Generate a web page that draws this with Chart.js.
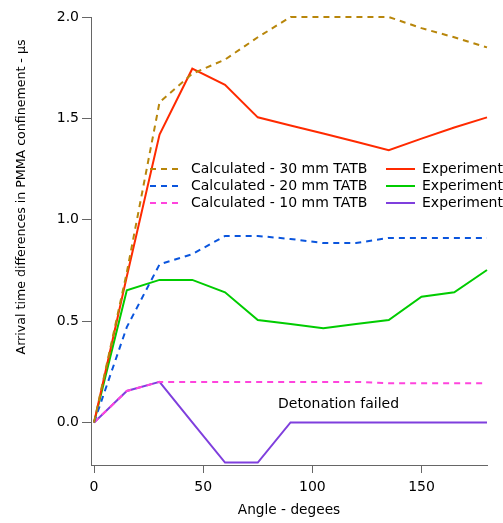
<!DOCTYPE html>
<html>
<head>
<meta charset="utf-8">
<script src="https://cdn.jsdelivr.net/npm/chart.js@4/dist/chart.umd.min.js"></script>
<style>
  html, body { margin: 0; padding: 0; background: #fff; }
  #wrap { width: 503px; height: 523px; }
</style>
</head>
<body>
<div id="wrap"><canvas id="chart"></canvas></div>
<script>
// angles (degrees)
const angles = [0, 15, 30, 45, 60, 75, 90, 105, 120, 135, 150, 165, 180];

// calculated arrival time differences (us)
const calc30 = [0, 0.74, 1.58, 1.72, 1.79, 1.90, 2.0, 2.0, 2.0, 2.0, 1.945, 1.90, 1.85];
const calc20 = [0, 0.47, 0.78, 0.83, 0.92, 0.92, 0.905, 0.885, 0.885, 0.91, 0.91, 0.91, 0.91];
const calc10 = [0, 0.155, 0.20, 0.20, 0.20, 0.20, 0.20, 0.20, 0.20, 0.193, 0.193, 0.193, 0.193];

// experiments
const exp30 = [0, 0.72, 1.42, 1.745, 1.665, 1.505, 1.465, 1.425, 1.385, 1.343, 1.40, 1.455, 1.505];
const exp20 = [0, 0.652, 0.703, 0.703, 0.642, 0.505, 0.485, 0.465, 0.485, 0.505, 0.62, 0.642, 0.752];
const exp10 = [0, 0.155, 0.20, 0.0, -0.198, -0.198, 0, 0, 0, 0, 0, 0, 0];

const xTicks = [0, 50, 100, 150];
const yTicks = [0, 0.5, 1.0, 1.5, 2.0];

const seriesLabels = [
  "Calculated - 30 mm TATB",
  "Calculated - 20 mm TATB",
  "Calculated - 10 mm TATB",
  "Experiment",
  "Experiment",
  "Experiment",
];
const seriesColors = ["#b8860b", "#0a55dd", "#ff44dd", "#ff2a00", "#00cc00", "#7f3fdd"];
const note = { text: "Detonation failed", x: 112, y: 0.09 };
const yTitle = "Arrival time differences in PMMA confinement - µs";

const FONT = "'DejaVu Sans', sans-serif";
const dash = [6, 5];

function pts(arr) {
  return arr.map((v, i) => ({ x: angles[i], y: v }));
}

const allData = [calc30, calc20, calc10, exp30, exp20, exp10];

const datasets = allData.map((d, i) => ({
  label: seriesLabels[i],
  data: pts(d),
  borderColor: seriesColors[i],
  backgroundColor: seriesColors[i],
  borderWidth: 2,
  borderDash: i < 3 ? dash : [],
  pointRadius: 0,
  tension: 0,
  fill: false,
  clip: 4,
}));

// two column legend drawn inside the plot, the text note and the y title
const extras = {
  id: "extras",
  afterDatasetsDraw(chart) {
    const ctx = chart.ctx;
    ctx.save();
    ctx.font = "14px " + FONT;
    ctx.textBaseline = "middle";
    ctx.fillStyle = "#000";
    const rows = [169, 186, 203];
    for (let i = 0; i < 6; i++) {
      const col = i < 3 ? 0 : 1;
      const y = rows[i % 3];
      const x0 = col === 0 ? 150 : 386;
      const x1 = col === 0 ? 183 : 415;
      const tx = col === 0 ? 191 : 422;
      ctx.strokeStyle = seriesColors[i];
      ctx.lineWidth = 2;
      ctx.setLineDash(i < 3 ? dash : []);
      ctx.beginPath();
      ctx.moveTo(x0, y);
      ctx.lineTo(x1, y);
      ctx.stroke();
      ctx.setLineDash([]);
      ctx.textAlign = "left";
      ctx.fillText(seriesLabels[i], tx, y);
    }
    const xs = chart.scales.x, ys = chart.scales.y;
    ctx.textAlign = "center";
    ctx.fillText(note.text, xs.getPixelForValue(note.x), ys.getPixelForValue(note.y));

    // y axis title, not centred on the axis in the original
    ctx.font = "12.6px " + FONT;
    ctx.translate(22, 197);
    ctx.rotate(-Math.PI / 2);
    ctx.fillText(yTitle, 0, 0);
    ctx.restore();
  },
};

new Chart(document.getElementById("chart"), {
  type: "line",
  data: { datasets },
  plugins: [extras],
  options: {
    responsive: true,
    maintainAspectRatio: false,
    animation: false,
    layout: { padding: { top: 17, right: 16, left: 0, bottom: 0 } },
    plugins: { legend: { display: false }, tooltip: { enabled: false } },
    scales: {
      x: {
        type: "linear",
        min: -1.4,
        max: 180,
        afterBuildTicks: (s) => { s.ticks = xTicks.map((v) => ({ value: v })); },
        afterFit: (s) => { s.height = 58; },
        grid: { drawOnChartArea: false, drawTicks: true, tickLength: 8, color: "#666" },
        border: { display: true, color: "#666", width: 1 },
        ticks: { color: "#000", font: { family: FONT, size: 14 }, padding: 6, maxRotation: 0 },
        title: { display: true, text: "Angle - degees", color: "#000", font: { family: FONT, size: 13.7 }, padding: { top: 0, bottom: 4 } },
      },
      y: {
        min: -0.21,
        max: 2.0,
        afterBuildTicks: (s) => { s.ticks = yTicks.map((v) => ({ value: v })); },
        afterFit: (s) => { s.width = 91; },
        grid: { drawOnChartArea: false, drawTicks: true, tickLength: 9, color: "#666" },
        border: { display: true, color: "#666", width: 1 },
        ticks: { color: "#000", font: { family: FONT, size: 14 }, padding: 3, callback: (v) => v.toFixed(1) },
      },
    },
  },
});
</script>
</body>
</html>
